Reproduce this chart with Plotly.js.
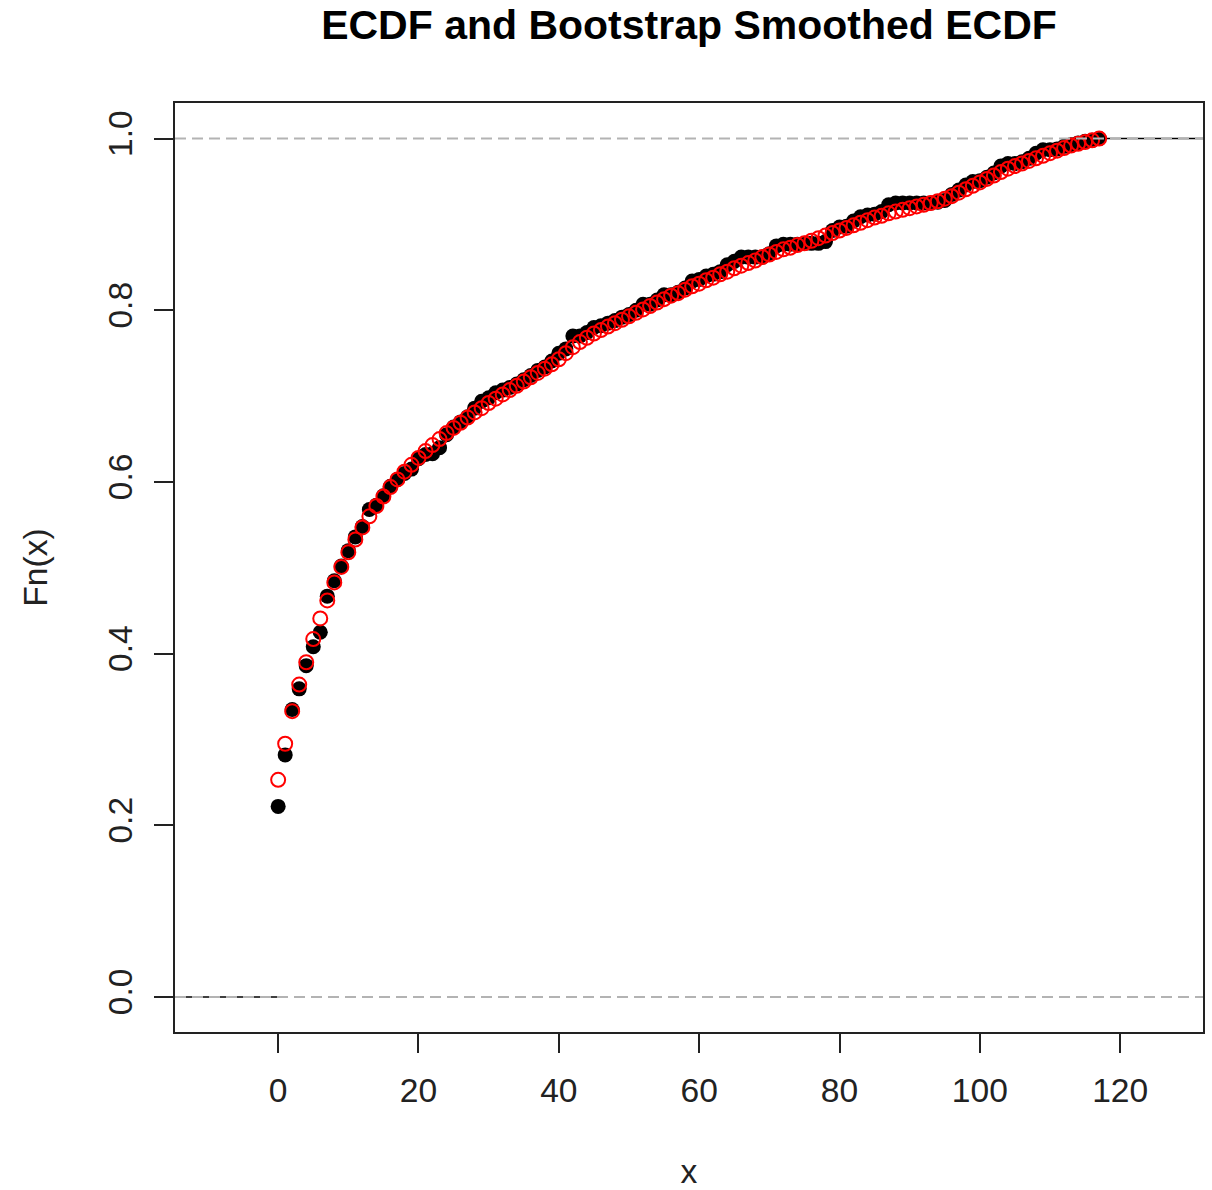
<!DOCTYPE html>
<html>
<head>
<meta charset="utf-8">
<script src="https://cdn.plot.ly/plotly-3.0.1.min.js"></script>
<style>
  html, body { margin: 0; padding: 0; background: #ffffff; }
  #chart { width: 1212px; height: 1190px; }
</style>
</head>
<body>
<div id="chart"></div>
<script>
// Observed values (integer support 0..117)
const xVals = [
  0, 1, 2, 3, 4, 5, 6, 7, 8, 9,
  10, 11, 12, 13, 14, 15, 16, 17, 18, 19,
  20, 21, 22, 23, 24, 25, 26, 27, 28, 29,
  30, 31, 32, 33, 34, 35, 36, 37, 38, 39,
  40, 41, 42, 43, 44, 45, 46, 47, 48, 49,
  50, 51, 52, 53, 54, 55, 56, 57, 58, 59,
  60, 61, 62, 63, 64, 65, 66, 67, 68, 69,
  70, 71, 72, 73, 74, 75, 76, 77, 78, 79,
  80, 81, 82, 83, 84, 85, 86, 87, 88, 89,
  90, 91, 92, 93, 94, 95, 96, 97, 98, 99,
  100, 101, 102, 103, 104, 105, 106, 107, 108, 109,
  110, 111, 112, 113, 114, 115, 116, 117
];

// Empirical CDF Fn(x) at each value
const ecdfVals = [
  0.222, 0.282, 0.335, 0.359, 0.386, 0.408, 0.425, 0.467, 0.485, 0.502,
  0.520, 0.536, 0.548, 0.568, 0.573, 0.584, 0.595, 0.603, 0.610, 0.615,
  0.627, 0.632, 0.633, 0.640, 0.655, 0.664, 0.670, 0.676, 0.686, 0.694,
  0.698, 0.704, 0.707, 0.710, 0.714, 0.719, 0.724, 0.730, 0.734, 0.741,
  0.750, 0.755, 0.770, 0.770, 0.774, 0.780, 0.782, 0.785, 0.788, 0.792,
  0.795, 0.800, 0.807, 0.807, 0.812, 0.818, 0.818, 0.821, 0.826, 0.834,
  0.836, 0.840, 0.842, 0.845, 0.853, 0.857, 0.862, 0.862, 0.862, 0.862,
  0.866, 0.875, 0.877, 0.877, 0.877, 0.878, 0.878, 0.878, 0.880, 0.893,
  0.897, 0.898, 0.904, 0.909, 0.911, 0.912, 0.915, 0.923, 0.925, 0.925,
  0.925, 0.925, 0.925, 0.925, 0.926, 0.928, 0.935, 0.940, 0.946, 0.950,
  0.951, 0.955, 0.960, 0.968, 0.971, 0.971, 0.973, 0.977, 0.983, 0.987,
  0.987, 0.988, 0.991, 0.993, 0.995, 0.997, 0.998, 1.000
];

// Bootstrap-smoothed ECDF at the same values
const smoothVals = [
  0.253, 0.295, 0.333, 0.364, 0.390, 0.417, 0.441, 0.462, 0.483, 0.501,
  0.518, 0.533, 0.547, 0.560, 0.572, 0.583, 0.594, 0.603, 0.612, 0.620,
  0.628, 0.636, 0.643, 0.650, 0.657, 0.663, 0.669, 0.675, 0.681, 0.686,
  0.692, 0.697, 0.702, 0.707, 0.712, 0.717, 0.722, 0.727, 0.732, 0.737,
  0.743, 0.750, 0.757, 0.763, 0.768, 0.773, 0.777, 0.781, 0.785, 0.789,
  0.793, 0.797, 0.801, 0.805, 0.809, 0.813, 0.817, 0.820, 0.824, 0.828,
  0.831, 0.835, 0.838, 0.842, 0.845, 0.849, 0.852, 0.855, 0.858, 0.862,
  0.865, 0.868, 0.871, 0.873, 0.876, 0.878, 0.881, 0.884, 0.887, 0.890,
  0.893, 0.896, 0.899, 0.902, 0.905, 0.908, 0.910, 0.913, 0.915, 0.917,
  0.919, 0.921, 0.923, 0.925, 0.927, 0.930, 0.933, 0.937, 0.941, 0.945,
  0.949, 0.953, 0.957, 0.961, 0.965, 0.968, 0.971, 0.974, 0.977, 0.980,
  0.983, 0.986, 0.989, 0.992, 0.994, 0.996, 0.998, 1.000
];

const xTicks = [0, 20, 40, 60, 80, 100, 120];
const yTicks = [0.0, 0.2, 0.4, 0.6, 0.8, 1.0];
const yTickLabels = ["0.0", "0.2", "0.4", "0.6", "0.8", "1.0"];

const xRange = [-14.7, 131.8];
const yRange = [-0.0408, 1.0415];

// Horizontal pieces of the step function (no verticals)
const stepX = [xRange[0], xVals[0], null];
const stepY = [0, 0, null];
for (let i = 0; i < xVals.length; i++) {
  const xEnd = i + 1 < xVals.length ? xVals[i + 1] : xRange[1];
  stepX.push(xVals[i], xEnd, null);
  stepY.push(ecdfVals[i], ecdfVals[i], null);
}

const FONT = "Liberation Sans, Arimo, Arial, sans-serif";
const INK = "#222222";

const traces = [
  {
    type: "scatter", mode: "lines",
    x: stepX, y: stepY,
    line: { color: "#000000", width: 1.5 },
    connectgaps: false, hoverinfo: "skip", showlegend: false
  },
  {
    type: "scatter", mode: "markers",
    x: xVals, y: ecdfVals, name: "ECDF",
    marker: { symbol: "circle", size: 15, color: "#000000" },
    showlegend: false
  },
  {
    type: "scatter", mode: "markers",
    x: xVals, y: smoothVals, name: "Smoothed ECDF",
    marker: { symbol: "circle-open", size: 14, color: "#ff0000", line: { color: "#ff0000", width: 2 } },
    showlegend: false
  }
];

const refLine = (yv) => ({
  type: "line", xref: "paper", yref: "y",
  x0: 0, x1: 1, y0: yv, y1: yv,
  line: { color: "#b3b3b3", width: 2, dash: "11px,6px" },
  layer: "above"
});

const layout = {
  width: 1212, height: 1190,
  paper_bgcolor: "#ffffff", plot_bgcolor: "#ffffff",
  margin: { l: 175, r: 9, t: 103, b: 158 },
  font: { family: FONT, color: INK, size: 33.6 },
  title: {
    text: "<b>ECDF and Bootstrap Smoothed ECDF</b>",
    font: { family: FONT, size: 41, color: "#000000" },
    x: 0.5, xref: "paper", xanchor: "center",
    y: 1 - 25 / 1190, yref: "container", yanchor: "middle"
  },
  xaxis: {
    range: xRange, autorange: false,
    tickmode: "array", tickvals: xTicks,
    ticks: "outside", ticklen: 19, tickwidth: 2, tickcolor: INK,
    ticklabelstandoff: 9,
    showline: true, mirror: true, linecolor: INK, linewidth: 2,
    showgrid: false, zeroline: false,
    tickfont: { family: FONT, size: 33.6, color: INK },
    title: { text: "x", font: { family: FONT, size: 33.6, color: INK }, standoff: 55 }
  },
  yaxis: {
    range: yRange, autorange: false,
    tickmode: "array", tickvals: yTicks, ticktext: yTickLabels,
    tickangle: -90,
    ticks: "outside", ticklen: 19, tickwidth: 2, tickcolor: INK,
    ticklabelstandoff: 9,
    showline: true, mirror: true, linecolor: INK, linewidth: 2,
    showgrid: false, zeroline: false,
    tickfont: { family: FONT, size: 33.6, color: INK },
    title: { text: "Fn(x)", font: { family: FONT, size: 33.6, color: INK }, standoff: 44 }
  },
  shapes: [refLine(0), refLine(1)]
};

Plotly.newPlot("chart", traces, layout, { displayModeBar: false, staticPlot: true });
</script>
</body>
</html>
